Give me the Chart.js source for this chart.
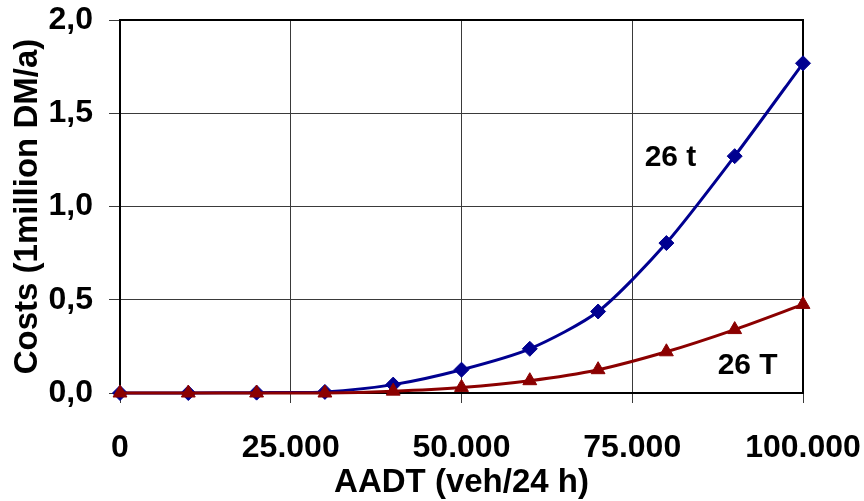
<!DOCTYPE html>
<html>
<head>
<meta charset="utf-8">
<script src="https://cdn.jsdelivr.net/npm/chart.js@4/dist/chart.umd.min.js"></script>
<style>
  html, body { margin: 0; padding: 0; background: #ffffff; }
  #wrap { width: 864px; height: 501px; }
</style>
</head>
<body>
<div id="wrap"><canvas id="c" width="864" height="501"></canvas></div>
<script>
// Annual average daily traffic (veh/24 h)
const aadt = [0, 10000, 20000, 30000, 40000, 50000, 60000, 70000, 80000, 90000, 100000];
// Costs in million DM per year
const costs26t = [0, 0, 0.002, 0.006, 0.045, 0.125, 0.237, 0.437, 0.804, 1.27, 1.768];
const costs26T = [0, 0, 0, 0, 0.01, 0.03, 0.066, 0.125, 0.221, 0.34, 0.475];
// Axis ticks
const xTicks = [0, 25000, 50000, 75000, 100000];
const yTicks = [0, 0.5, 1.0, 1.5, 2.0];
// Curve labels placed in data space
const curveLabels = [
  { text: '26 t', x: 80600, y: 1.26 },
  { text: '26 T', x: 91900, y: 0.146 }
];

const FONT = '"Liberation Sans", Arial, Helvetica, sans-serif';
const BLUE = '#000090';
const RED = '#8b0000';
const GRID = '#3a3a3a';

const fmtThousands = v => String(Math.round(v)).replace(/\B(?=(\d{3})+(?!\d))/g, '.');
const fmtDecimal = v => Number(v).toFixed(1).replace('.', ',');

const framePlugin = {
  id: 'plotFrame',
  beforeDatasetsDraw(chart) {
    const { ctx, chartArea: a } = chart;
    ctx.save();
    ctx.strokeStyle = '#000000';
    ctx.lineWidth = 2;
    ctx.strokeRect(a.left, a.top, a.right - a.left, a.bottom - a.top);
    ctx.restore();
  }
};

const curveLabelPlugin = {
  id: 'curveLabels',
  afterDatasetsDraw(chart) {
    const { ctx, scales } = chart;
    ctx.save();
    ctx.fillStyle = '#000000';
    ctx.font = 'bold 30px ' + FONT;
    ctx.textAlign = 'center';
    ctx.textBaseline = 'middle';
    curveLabels.forEach(l => {
      ctx.fillText(l.text, scales.x.getPixelForValue(l.x), scales.y.getPixelForValue(l.y));
    });
    ctx.restore();
  }
};

new Chart(document.getElementById('c'), {
  type: 'line',
  data: {
    datasets: [
      {
        label: '26 T',
        data: aadt.map((x, i) => ({ x, y: costs26T[i] })),
        borderColor: RED,
        backgroundColor: RED,
        borderWidth: 3,
        pointStyle: 'triangle',
        pointRadius: 8,
        pointBorderWidth: 1,
        tension: 0.25,
        clip: false,
        order: 0
      },
      {
        label: '26 t',
        data: aadt.map((x, i) => ({ x, y: costs26t[i] })),
        borderColor: BLUE,
        backgroundColor: BLUE,
        borderWidth: 3,
        pointStyle: 'rectRot',
        pointRadius: 7.5,
        pointBorderWidth: 1,
        tension: 0.25,
        clip: false,
        order: 1
      }
    ]
  },
  options: {
    responsive: false,
    animation: false,
    events: [],
    layout: { padding: { left: 0, right: 61, top: 20, bottom: 0 } },
    plugins: { legend: { display: false }, tooltip: { enabled: false } },
    scales: {
      x: {
        type: 'linear',
        min: 0,
        max: 100000,
        afterBuildTicks: s => { s.ticks = xTicks.map(v => ({ value: v })); },
        afterFit: s => {
          s.height = 108;
          s.paddingLeft = 0;
          s.paddingRight = 0;
        },
        grid: { color: GRID, lineWidth: 1, tickLength: 10, drawTicks: true },
        border: { display: false },
        ticks: {
          color: '#000000',
          font: { family: FONT, size: 32, weight: 'bold' },
          padding: 26,
          maxRotation: 0,
          autoSkip: false,
          callback: v => fmtThousands(v)
        },
        title: {
          display: true,
          text: 'AADT (veh/24 h)',
          color: '#000000',
          font: { family: FONT, size: 33, weight: 'bold', lineHeight: 1 },
          padding: { top: 0, bottom: 2 }
        }
      },
      y: {
        min: 0,
        max: 2,
        afterBuildTicks: s => { s.ticks = yTicks.map(v => ({ value: v })); },
        afterFit: s => {
          s.width = 120;
          s.paddingTop = 0;
          s.paddingBottom = 0;
        },
        grid: { color: GRID, lineWidth: 1, tickLength: 11, drawTicks: true },
        border: { display: false },
        ticks: {
          color: '#000000',
          font: { family: FONT, size: 32, weight: 'bold' },
          padding: 16,
          autoSkip: false,
          callback: v => fmtDecimal(v)
        },
        title: {
          display: true,
          text: 'Costs (1million DM/a)',
          color: '#000000',
          font: { family: FONT, size: 33, weight: 'bold', lineHeight: 1 },
          padding: { top: 11, bottom: 0 }
        }
      }
    }
  },
  plugins: [framePlugin, curveLabelPlugin]
});
</script>
</body>
</html>
